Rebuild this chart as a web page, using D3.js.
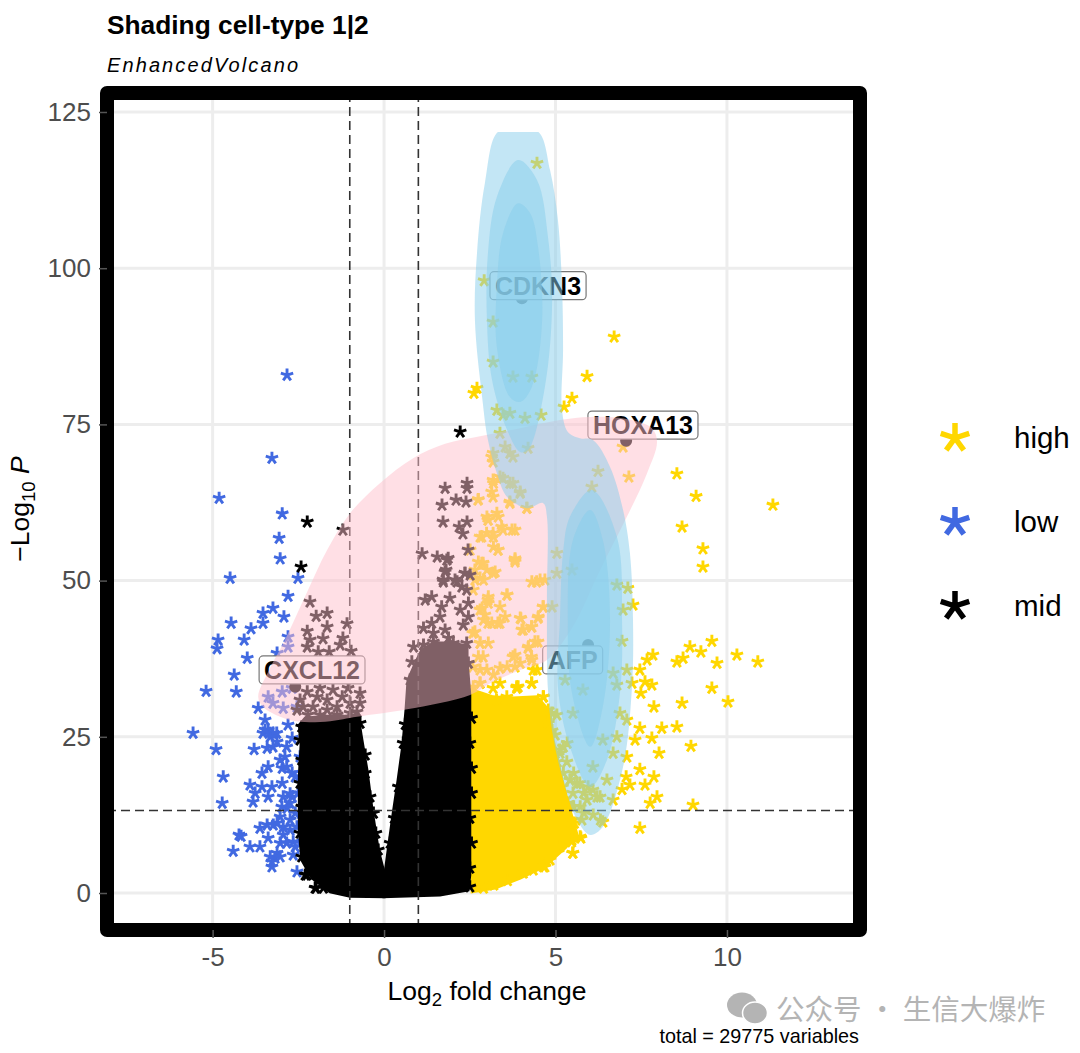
<!DOCTYPE html>
<html>
<head>
<meta charset="utf-8">
<script src="https://cdnjs.cloudflare.com/ajax/libs/d3/7.8.5/d3.min.js"></script>
<style>
  html, body { margin: 0; padding: 0; background: #fff; }
  text { font-family: "Liberation Sans", Arial, sans-serif; }
</style>
</head>
<body>
<svg id="chart" width="1080" height="1053"></svg>
<script>
const xTicks = [-5, 0, 5, 10];
const yTicks = [0, 25, 50, 75, 100, 125];
const cutX = [-1, 1];
const cutY = [13.2];

const massMidLeft = [[-2.47,26.9],[-2.42,23.7],[-2.47,18.9],[-2.47,14.9],[-2.47,10.1],[-2.40,5.3],[-2.10,2.4],[-1.57,0.2],[-0.99,-0.5],[0,-0.6],[0,3.2],[-0.17,6.9],[-0.35,13.3],[-0.50,19.7],[-0.67,25.3],[-0.76,28.5],[-1.14,28.3],[-1.72,28.3],[-2.30,28.0]];
const massMidRight = [[0.03,3.2],[0.12,6.9],[0.26,12.5],[0.41,18.1],[0.55,23.7],[0.64,29.3],[0.70,34.1],[0.96,37.3],[1.10,38.9],[1.45,40],[2.01,40],[2.42,39.5],[2.42,37.3],[2.5,31.7],[2.5,27.7],[2.5,21.3],[2.5,14.9],[2.5,8.5],[2.5,2.9],[2.45,0.5],[1.63,-0.3],[0,-0.6]];
const massHigh = [[2.57,32.5],[3.18,31.4],[3.76,31.2],[4.46,31.4],[4.84,29.0],[4.93,24.5],[5.19,18.1],[5.42,13.3],[5.63,9.3],[5.28,7.2],[4.69,4.3],[3.97,2.4],[3.24,0.8],[2.57,0.2]];

const pointsHigh = [[4.46,116.8],[2.92,98.0],[6.71,89.0],[3.18,91.4],[5.92,82.7],[2.71,80.8],[2.62,80.0],[3.18,85.0],[5.48,79.2],[5.25,77.8],[3.76,82.6],[4.31,82.6],[3.29,77.3],[3.67,76.8],[3.47,76.5],[4.11,76.0],[4.58,76.5],[3.38,73.6],[3.53,71.4],[4.20,71.2],[3.18,70.4],[3.76,69.8],[3.18,69.0],[6.24,67.5],[6.06,65.0],[7.14,66.6],[8.54,67.1],[9.10,63.5],[11.34,62.1],[6.97,71.4],[3.18,66.1],[3.47,66.4],[3.76,65.6],[3.97,64.0],[2.74,62.9],[3.18,63.4],[3.67,62.6],[4.17,61.6],[3.29,60.8],[3.00,60.2],
  [8.69,58.6],[9.30,55.1],[9.30,52.2],[7.11,48.8],[6.79,49.3],[7.26,46.1],[6.97,45.3],[6.94,40.3],[7.84,38.1],[7.67,37.3],[7.46,35.7],[8.54,37.0],[8.72,37.6],[8.92,39.4],[9.24,38.6],[9.56,40.3],[9.71,36.8],[10.29,38.1],[10.90,37.0],[9.56,32.8],[10.03,30.6],[8.69,30.4],[7.87,29.8],[7.49,32.0],[7.81,33.3],[7.61,33.8],[7.23,33.6],[7.08,35.7],[8.10,26.4],[8.54,26.6],[7.46,26.4],[7.81,24.8],[7.32,24.5],[8.02,22.4],[8.95,23.5],[7.46,19.8],[7.87,18.6],[7.61,17.3],[7.08,21.8],[7.06,18.6],[7.17,17.3],[7.96,15.4],[7.76,14.4],[9.01,14.1],[7.46,10.4],[6.94,16.6],[6.38,11.4],[6.68,14.9],[5.77,11.7],[5.74,8.8],[5.51,6.4],[5.48,8.5],[4.69,4.2],
  [7.08,27.7],[6.68,22.4],[6.79,25.0],[6.38,24.5],[6.09,20.2],[5.71,17.6],[6.09,16.5],[5.51,16.0],[6.30,15.4],[5.34,24.0],[5.13,22.9],[5.04,28.5],[5.51,28.8],[5.80,32.5],[5.28,34.1],[6.68,35.2],[6.79,33.3],[6.88,28.8],[5.48,51.7],[5.04,51.2],[5.04,54.4],[4.90,45.8],[5.42,18.1],[6.50,18.1],[5.92,14.9],
  [5.23,23.4],[5.53,19.2],[5.82,16],[6.21,15.4],[5.43,18.1],[5.13,22.4],[5.72,13.8],[6.31,11.7],[5.33,21],[5.63,17.5],[5.95,17],[5.53,13.8],[6.1,12.5],[5.83,12.8],
  [3.82,53.5],[3.18,57.6],[2.80,57.0],[3.47,58.1],[3.73,58.1],[3.03,59.7],[3.32,54.9],[2.89,52.8],[2.51,54.9],[3.18,51.2],[2.80,50.4],[4.31,49.8],[4.55,50.1],[3.59,47.7],[3.03,46.9],[2.86,45.6],[3.03,43.2],[3.32,43.2],[3.53,44.2],[3.99,43.9],[4.02,42.1],[4.31,42.6],[4.64,45.8],[4.49,44.0],[2.59,41.6],[2.80,40.0],[2.89,37.8],[2.59,36.2],[3.00,35.7],[2.80,33.6],[3.76,37.8],[3.59,36.2],[3.97,36.8],[4.20,39.2],[4.49,40.2],[4.31,37.3],[4.46,35.7],[2.94,44.5],[2.65,51.7],[3.91,33.0],[4.31,33.6],[3.18,32.8],[4.64,31.4],[4.75,28.5],[4.99,22.4],
  [2.75,53],[3,51.7],[2.65,50.1],[2.9,50.1],[3.24,51.4],[4.45,49.8],[4.69,50.1],[3.82,53],[2.6,48.5],[3.58,47.7],[3.04,47.4],[2.8,45.3],[3.38,45.8],[3.04,46.4],[4.64,45.8],[3.97,44],[4.5,44.2],[4.06,42.1],[4.3,42.6],[2.9,43.7],[3.14,43.2],[3.38,43.2],[2.65,41.8],[2.8,40],[3.04,40],[2.75,37.8],[4.4,40.2],[4.21,39.4],[3.82,38.1],[4.3,37.8],[3.38,36],[3.82,36.2],[3.19,34.9],[2.8,35.7],[2.8,33.6],[2.6,33],[3.38,33.6],
  [3.14,69.8],[3.67,70.4],[3.19,65.6],[3.14,64.2],[3.38,66.6],[3.67,65.6],[3.97,64.2],[2.75,63],[3.67,62.4],[4.16,61.6],[3.33,60.2],[3.04,59.7],[3.43,58.6],[3.82,58.1],[2.85,57],[3.19,57],[3.33,54.9],[3.82,53.3],[2.85,52.8],[3.19,55.4],[2.99,57.6],
  [3.87,33],[4.65,31.4],[4.89,28.8],[4.99,25.3],[4.79,27.2],[5.23,19.2],[5.37,14.4],[5.55,11.2],[5.72,9],[5.47,8.2],[5.5,6.4],[5.13,7.4],[4.84,5.3],[4.65,4.2],[4.35,3.7],[4.06,3.2],[3.6,2.0],[3.2,1.3],[2.9,0.8],
  [3.87,32.8],[4.3,33.6],[4.35,35.7],[4.79,29.3],[3.28,30.9],[3.58,31.4],[4.9,26],[5.05,21],[5.2,17],[5.35,14],[5.45,11.5]];

const pointsLow = [[-2.83,82.9],[-3.27,69.6],[-4.81,63.2],[-2.97,60.7],[-3.06,56.8],[-3.03,53.5],[-4.49,50.4],[-2.51,50.4],[-2.80,47.5],[-3.24,45.6],[-3.53,44.8],[-2.92,44.2],[-3.53,43.2],[-4.46,43.2],[-3.88,42.3],[-4.84,40.5],[-4.87,39.1],[-4.08,40.5],[-3.99,37.6],[-4.37,34.9],[-5.19,32.3],[-4.31,32.2],[-3.67,29.6],[-5.57,25.6],[-4.90,23.0],[-3.79,23.0],[-4.69,18.6],[-4.72,14.4],[-4.23,9.3],[-4.17,9.1],[-4.40,6.7],[-3.91,7.4],[-3.62,7.4],[-3.27,4.2],[-3.18,5.6],[-2.54,3.4],
  [-3.47,27.7],[-3.38,26.1],[-3.24,25.6],[-3.53,25.6],[-3.12,24.2],[-2.80,26.9],[-2.68,24.8],[-3.41,23.2],[-3.24,23.4],[-2.89,21.8],[-2.97,20.0],[-2.68,19.2],[-2.45,18.6],[-3.38,20.2],[-3.56,19.2],[-3.91,17.3],[-3.56,17.0],[-3.27,17.0],[-2.97,17.6],[-3.76,16.0],[-3.38,15.4],[-3.82,14.6],[-2.94,15.4],[-2.68,15.4],[-2.51,16.0],[-2.83,13.6],[-2.59,12.8],[-3.03,12.2],[-3.12,11.2],[-3.62,10.4],[-3.41,10.9],[-2.94,10.6],[-2.54,10.6],[-3.38,8.8],[-2.94,9.3],[-2.65,8.2],[-2.45,8.0],[-3.03,8.0],[-2.65,6.1],[-3.12,6.4],[-3.27,5.0],
  [-3.32,25],[-3.47,26.1],[-3.13,25.6],[-2.84,23.4],[-3.03,21.3],[-2.84,20.2],[-2.59,18.6],[-2.74,15.9],[-2.98,13.8],[-2.74,14.4],[-3.23,10.9],[-2.74,10.1],[-2.84,8],[-2.59,7.4],[-2.74,11.7],[-2.45,21.8],[-3.32,5.8],[-3.03,5.8],
  [-2.80,41.0],[-2.80,39.4],[-3.12,38.4],[-3.38,31.4],[-2.97,32.2],[-3.24,30.4],[-2.94,29.6],[-2.54,29.8],[-2.68,32.8]];

const pointsMid = [[-2.24,59.4],[-1.20,58.1],[-2.42,52.2],[2.22,73.8],[-1.98,0.8],[-2.25,2.9],
  [-2.4,26.6],[-2.45,24.5],[-2.16,23.2],[-2.4,21.3],[-2.45,17.6],[-2.4,13.8],[-2.45,9.6],[-2.4,5.8],[-2.3,2.9],[-2.01,.8],[-1.77,.8],[-0.7,27.2],[-0.55,22.1],[-0.55,19.2],[-0.41,15.4],[-0.31,12.8],[-0.24,9.6],[-0.17,6.9],
  [2.55,28],[2.5,24],[2.55,20],[2.55,16],[2.5,12],[2.55,8],[2.5,4],[2.5,1],
  [0.42,17],[0.56,24],[0.3,12],[0.18,8],[0.62,27],
  [1.78,64.8],[2.42,65.6],[2.42,64.8],[2.10,62.9],[2.39,62.6],[1.69,62.1],[1.72,59.4],[2.42,59.4],[2.19,58.6],[2.30,57.5],[1.11,54.3],[1.55,53.8],[1.87,53.6],[2.45,54.9],[1.81,51.7],[1.72,50.1],[2.13,49.8],[2.36,51.2],[2.51,50.9],
  [-2.16,46.6],[-1.98,44.3],[-1.66,44.8],[-1.66,42.6],[-1.08,43.1],[-2.24,41.9],[-2.16,40.5],[-1.78,40.7],[-1.20,40.8],[-2.24,39.4],[-1.92,38.6],[-1.60,38.6],[-1.28,39.7],[-0.96,38.7],
  [-2.24,32.2],[-1.87,32.8],[-1.49,32.5],[-1.05,32.8],[-0.70,32.0],[-2.36,29.8],[-2.07,29.8],[-1.66,30.9],[-1.37,29.8],[-1.66,29.3],[-0.99,30.4],[-0.70,30.4],[-2.22,28.5],[-1.87,28.5],[-1.37,28.5],[-0.99,28.8],[-0.79,29.0],[-2.54,29.3],[-2.45,30.9],[-1.95,31.4],[-1.22,31.4],
  [1.83,53.3],[1.78,51.4],[1.73,49.8],[2.07,50.1],[2.36,51.2],[2.41,48.5],[2.27,49.0],[1.2,46.9],[1.39,47.4],[1.68,45.8],[1.92,47.2],[2.22,45.3],[2.46,46.4],[1.63,44.2],[1.39,43.2],[1.15,42.4],[1.78,42.1],[1.44,41.6],[1.88,40.8],[2.31,42.9],[2.46,44.2],[0.86,39.4],[1.15,39.7],[1.44,40.2],[2.02,40],[2.41,40],[2.46,36.8],[2.17,38.4],[0.81,37],[1.0,35.7],[0.76,34.1],[1.68,35.7],[1.83,34.4]];

const labelGenes = ["CDKN3", "HOXA13", "AFP", "CXCL12"];
const labelPoints = [[4.02,95.2],[7.06,72.4],[5.95,39.7],[-2.59,33]];
const labelAnchors = [[4.49,97.2],[7.55,74.9],[5.50,37.3],[-2.10,35.7]];

// shading contours
const densityPink = [[-3.67,31.4],[-3.53,29.8],[-3.03,28.2],[-2.45,27.4],[-1.57,27.5],[-0.79,28.2],[0.67,29.4],[2.51,31.7],[3.18,33.8],[3.97,35.7],[4.75,37.3],[5.48,42.4],[6.30,51.7],[7.08,60.2],[7.67,67.2],[7.96,72.2],[7.81,74.4],[7.03,75.9],[6.01,76.2],[5.13,75.7],[3.97,74.4],[2.80,73.1],[1.78,71.9],[0.85,69.6],[-0.12,65.6],[-0.99,60.8],[-1.66,54.9],[-2.24,48.2],[-2.89,40.5],[-3.38,35.4]];
const densityBlueOuter = [[3.32,121.8],[3.9,122],[4.5,121.8],[4.84,115.7],[5.07,107.7],[5.19,97.0],[5.22,86.9],[5.19,77.3],[5.36,73.8],[5.71,72.8],[6.09,72.5],[6.59,68.2],[6.97,61.3],[7.17,54.4],[7.26,43.7],[7.23,33.0],[6.97,20.2],[6.38,10.6],[6.01,9.3],[5.63,11.7],[5.22,18.1],[4.93,25.0],[4.78,32.5],[4.75,46.9],[4.75,60.2],[4.64,62.4],[4.17,61.6],[3.59,63.4],[3.29,67.2],[3.03,72.5],[2.86,79.4],[2.65,91.7],[2.71,102.4],[2.94,113.6]];
const densityBlueUpper2 = [[3.91,117.3],[4.46,114.1],[4.78,105],[4.90,94.4],[4.69,81],[4.20,70.9],[3.97,70.6],[3.59,74.1],[3.15,82.1],[3.00,91.7],[3.03,102.4],[3.29,111.4]];
const densityBlueUpper3 = [[3.91,110.4],[4.26,108.8],[4.49,103.4],[4.61,91.7],[4.31,81],[3.97,78.6],[3.67,79.4],[3.29,87.4],[3.29,97],[3.47,105.6]];
const densityBlueLower2 = [[6.06,64.5],[6.79,57],[6.94,43.7],[6.88,32],[6.50,21.3],[6.01,17],[5.42,23.4],[5.07,33],[5.13,43.7],[5.22,54.4],[5.42,60.2]];
const densityBlueLower3 = [[6.01,61.3],[6.38,56.5],[6.59,43.7],[6.38,29.8],[6.01,23.4],[5.48,32],[5.36,43.7],[5.51,56.5]];
const densityTop = 121.8;

const legendKeys = ["high", "low", "mid"];
const legendColors = ["#FFD700", "#4169E1", "#000000"];

const svg = d3.select("#chart");

const xScale = d3.scaleLinear().domain([-8.08, 13.88]).range([107, 860]);
const yScale = d3.scaleLinear().domain([-5.92, 128.04]).range([930, 93]);

// five armed asterisk, like the "*" point shape
const asterisk = {
  draw(context, size) {
    const r = Math.sqrt(size);
    for (let i = 0; i < 5; i++) {
      const a = -Math.PI / 2 + i * 2 * Math.PI / 5;
      context.moveTo(0, 0);
      context.lineTo(r * Math.cos(a), r * Math.sin(a));
    }
  }
};
const starPath = d3.symbol().type(asterisk).size(42);
const outline = d3.line().x(d => xScale(d[0])).y(d => yScale(d[1]));
const smooth = d3.line().x(d => xScale(d[0])).y(d => yScale(d[1])).curve(d3.curveCatmullRomClosed.alpha(0.5));

// grid
svg.append("g").selectAll("line").data(xTicks).join("line")
  .attr("x1", d => xScale(d)).attr("x2", d => xScale(d))
  .attr("y1", yScale.range()[1]).attr("y2", yScale.range()[0])
  .attr("stroke", "#ededed").attr("stroke-width", 3);
svg.append("g").selectAll("line").data(yTicks).join("line")
  .attr("y1", d => yScale(d)).attr("y2", d => yScale(d))
  .attr("x1", xScale.range()[0]).attr("x2", xScale.range()[1])
  .attr("stroke", "#ededed").attr("stroke-width", 3);

// points
function drawMass(poly, color) {
  svg.append("path").attr("d", outline(poly) + "Z").attr("fill", color).attr("stroke", color).attr("stroke-width", 3);
}
function drawStars(points, color) {
  svg.append("g").selectAll("path").data(points).join("path")
    .attr("transform", d => `translate(${xScale(d[0])},${yScale(d[1])})`)
    .attr("d", starPath)
    .attr("fill", "none").attr("stroke", color).attr("stroke-width", 2.9);
}
drawMass(massHigh, legendColors[0]);
drawStars(pointsHigh, legendColors[0]);
drawStars(pointsLow, legendColors[1]);
drawMass(massMidLeft, legendColors[2]);
drawMass(massMidRight, legendColors[2]);
drawStars(pointsMid, legendColors[2]);

// cut-offs
const cuts = svg.append("g").attr("fill", "none").attr("stroke", "#333").attr("stroke-width", 1.6).attr("stroke-dasharray", "9 5");
cuts.selectAll(".v").data(cutX).join("line").attr("class", "v")
  .attr("x1", d => xScale(d)).attr("x2", d => xScale(d))
  .attr("y1", yScale.range()[1]).attr("y2", yScale.range()[0]);
cuts.selectAll(".h").data(cutY).join("line").attr("class", "h")
  .attr("y1", d => yScale(d)).attr("y2", d => yScale(d))
  .attr("x1", xScale.range()[0]).attr("x2", xScale.range()[1]);

// labelled genes
svg.append("g").selectAll("circle").data(labelPoints).join("circle")
  .attr("cx", d => xScale(d[0])).attr("cy", d => yScale(d[1])).attr("r", 6).attr("fill", "#000");
const labelG = svg.append("g").selectAll("g").data(labelGenes).join("g")
  .attr("transform", (d, i) => `translate(${xScale(labelAnchors[i][0])},${yScale(labelAnchors[i][1])})`);
labelG.append("text").attr("class", "lab").text(d => d)
  .attr("text-anchor", "middle").attr("dy", "0.36em")
  .attr("font-size", 25).attr("font-weight", "bold").attr("fill", "#000");
labelG.insert("rect", "text").each(function () {
  const b = this.parentNode.querySelector("text").getBBox();
  d3.select(this).attr("x", b.x - 5).attr("y", -14).attr("width", b.width + 10).attr("height", 28)
    .attr("rx", 4).attr("fill", "#fff").attr("stroke", "#777").attr("stroke-width", 1.2);
});

// shading on top of everything
svg.append("clipPath").attr("id", "shadeClip").append("rect")
  .attr("x", 107).attr("width", 753).attr("y", yScale(densityTop)).attr("height", 930 - yScale(densityTop));
const shade = svg.append("g").attr("clip-path", "url(#shadeClip)");
shade.append("path").attr("d", smooth(densityPink)).attr("fill", "pink").attr("fill-opacity", 0.5);
[densityBlueOuter, densityBlueUpper2, densityBlueUpper3, densityBlueLower2, densityBlueLower3].forEach(poly => {
  shade.append("path").attr("d", smooth(poly)).attr("fill", "skyblue").attr("fill-opacity", 0.5);
});

// panel border
svg.append("rect").attr("x", 107).attr("y", 93).attr("width", 753).attr("height", 837)
  .attr("fill", "none").attr("stroke", "#000").attr("stroke-width", 14).attr("stroke-linejoin", "round");

// axes
const xAxis = svg.append("g").attr("transform", "translate(0,930)")
  .call(d3.axisBottom(xScale).tickValues(xTicks).tickSize(8).tickPadding(10).tickFormat(d => String(d)));
const yAxis = svg.append("g").attr("transform", "translate(107,0)")
  .call(d3.axisLeft(yScale).tickValues(yTicks).tickSize(8).tickPadding(8).tickFormat(d => String(d)));
[xAxis, yAxis].forEach(a => {
  a.select(".domain").remove();
  a.selectAll("line").attr("stroke", "#555").attr("stroke-width", 1.5);
  a.selectAll("text").attr("font-size", 26).attr("fill", "#4d4d4d").attr("font-family", "Liberation Sans");
});

// titles
svg.append("text").attr("x", 107).attr("y", 34).attr("font-size", 26.3).attr("font-weight", "bold").text("Shading cell-type 1|2");
svg.append("text").attr("x", 107).attr("y", 72).attr("font-size", 20).attr("font-style", "italic").attr("letter-spacing", 2.1).text("EnhancedVolcano");

const xLab = svg.append("text").attr("x", 487).attr("y", 1000).attr("text-anchor", "middle").attr("font-size", 26.5);
xLab.append("tspan").text("Log");
xLab.append("tspan").attr("font-size", 18.5).attr("dy", 6).text("2");
xLab.append("tspan").attr("dy", -6).text(" fold change");

const yLab = svg.append("text").attr("transform", "translate(29,509) rotate(-90)").attr("text-anchor", "middle").attr("font-size", 26.5);
yLab.append("tspan").text("\u2212Log");
yLab.append("tspan").attr("font-size", 18.5).attr("dy", 6).text("10");
yLab.append("tspan").attr("dy", -6).text(" ");
yLab.append("tspan").attr("font-style", "italic").text("P");

svg.append("text").attr("x", 859).attr("y", 1043).attr("text-anchor", "end").attr("font-size", 19.8).text("total = 29775 variables");

// legend
const legendRow = d3.scalePoint().domain(legendKeys).range([438, 606]);
const legendStar = d3.symbol().type(asterisk).size(225);
const legend = svg.append("g").selectAll("g").data(legendKeys).join("g")
  .attr("transform", d => `translate(0,${legendRow(d)})`);
legend.append("path").attr("transform", "translate(955,0)").attr("d", legendStar)
  .attr("fill", "none").attr("stroke", (d, i) => legendColors[i]).attr("stroke-width", 5.5);
legend.append("text").attr("x", 1014).attr("y", 10).attr("font-size", 29.5).text(d => d);

// watermark
const wm = svg.append("g").attr("fill", "#b4b4b4");
wm.append("ellipse").attr("cx", 742).attr("cy", 1005).attr("rx", 15).attr("ry", 12.5);
wm.append("ellipse").attr("cx", 755).attr("cy", 1013).attr("rx", 12.5).attr("ry", 11).attr("stroke", "#fff").attr("stroke-width", 1.5);
wm.append("text").attr("x", 776).attr("y", 1020).attr("font-size", 28.5)
  .attr("style", "font-family:'Noto Sans CJK SC'").text("公众号 · 生信大爆炸");
</script>
</body>
</html>
